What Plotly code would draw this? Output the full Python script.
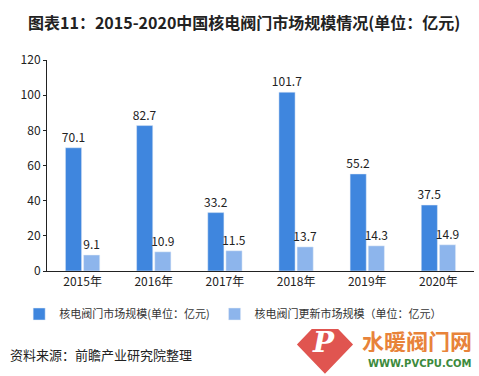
import plotly.graph_objects as go

years = ["2015年", "2016年", "2017年", "2018年", "2019年", "2020年"]
market = [70.1, 82.7, 33.2, 101.7, 55.2, 37.5]
renewal = [9.1, 10.9, 11.5, 13.7, 14.3, 14.9]
name1 = "核电阀门市场规模(单位：亿元)"
name2 = "核电阀门更新市场规模（单位：亿元）"
title = "图表11：2015-2020中国核电阀门市场规模情况(单位：亿元)"
source = "资料来源：前瞻产业研究院整理"

FONT = "Noto Sans CJK SC"

fig = go.Figure()
fig.add_trace(go.Bar(x=years, y=market, name=name1, marker_color="#3F86DE",
                     text=[f"{v:.1f}" for v in market], textposition="outside",
                     constraintext="none",
                     textfont=dict(size=12, color="#222"), cliponaxis=False))
fig.add_trace(go.Bar(x=years, y=renewal, name=name2, marker_color="#8DB5EC",
                     text=[f"{v:.1f}" for v in renewal], textposition="outside",
                     constraintext="none",
                     textfont=dict(size=12, color="#222"), cliponaxis=False))

fig.update_layout(
    width=479, height=376,
    margin=dict(l=47, r=5, t=60, b=105, autoexpand=False),
    paper_bgcolor="white", plot_bgcolor="white",
    font=dict(family=FONT, size=11, color="#333"),
    barmode="group", bargap=0.49, bargroupgap=0.11,
    showlegend=True,
    legend=dict(orientation="h", x=0.04, xanchor="left", xref="container",
                y=1 - 314 / 376, yanchor="middle", yref="container",
                font=dict(size=11, color="#333"), itemwidth=30, traceorder="normal",
                tracegroupgap=0),
    xaxis=dict(showline=True, linecolor="#222", linewidth=1, ticks="", automargin=False,
               tickfont=dict(size=12, color="#222")),
    yaxis=dict(range=[0, 120], dtick=20, showline=True, linecolor="#222", linewidth=1,
               showgrid=False, ticks="outside", ticklen=3, tickcolor="#222", automargin=False,
               tickfont=dict(size=12, color="#222"), zeroline=False),
)

fig.add_annotation(text=f"<b>{title}</b>", xref="paper", yref="paper", x=-0.05, y=1.18,
                   xanchor="left", yanchor="middle", showarrow=False,
                   font=dict(size=16, color="#222", family=FONT))
fig.add_annotation(text=source, xref="paper", yref="paper", x=-0.091, y=-0.396,
                   xanchor="left", yanchor="middle", showarrow=False,
                   font=dict(size=13, color="#222", family=FONT))
# site watermark logo
fig.add_shape(type="path", xref="paper", yref="paper",
              path="M 0.651 -0.23 L 0.707 -0.348 L 0.651 -0.466 L 0.595 -0.348 Z",
              fillcolor="#E05550", line=dict(color="#E05550", width=6))
fig.add_annotation(text="<b><i>P</i></b>", xref="paper", yref="paper", x=0.648, y=-0.34,
                   xanchor="center", yanchor="middle", showarrow=False,
                   font=dict(size=28, color="white", family="DejaVu Serif"))
fig.add_annotation(text="<b>水暖阀门网</b>", xref="paper", yref="paper", x=1.0, y=-0.325,
                   xanchor="right", yanchor="middle", showarrow=False, height=24,
                   font=dict(size=22, color="#E8833A", family=FONT))
fig.add_annotation(text="<b>WWW.PVCPU.COM</b>", xref="paper", yref="paper", x=1.0, y=-0.44,
                   xanchor="right", yanchor="middle", showarrow=False,
                   font=dict(size=10, color="#3D8A3D", family="DejaVu Sans"))

fig.write_html("out.html", config={"displayModeBar": False},
               post_script="document.body.style.margin='0';")
